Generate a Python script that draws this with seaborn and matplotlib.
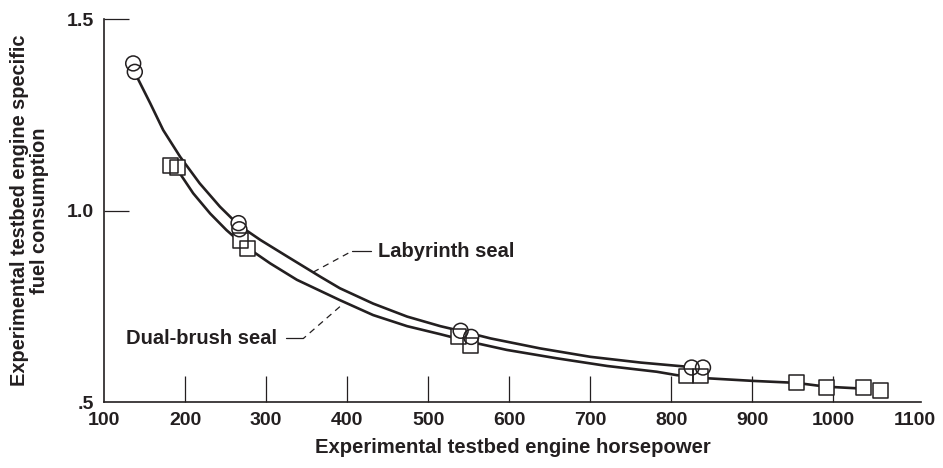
import matplotlib
matplotlib.use("Agg")
import matplotlib.pyplot as plt
import seaborn as sns
import pandas as pd

# smooth curves (horsepower, sfc)
lab_curve_x = [138, 157, 173, 194, 218, 243, 266, 293, 326, 367, 391, 432, 474, 515, 545, 577, 638, 700, 762, 820, 839]
lab_curve_y = [1.36, 1.28, 1.21, 1.14, 1.071, 1.010, 0.962, 0.923, 0.880, 0.827, 0.797, 0.757,
               0.723, 0.698, 0.683, 0.666, 0.640, 0.618, 0.603, 0.592, 0.590]
dual_curve_x = [191, 210, 231, 251, 272, 305, 338, 391, 432, 474, 515, 552, 597, 659, 721, 782,
                807, 830, 844, 902, 954, 991, 1036]
dual_curve_y = [1.105, 1.045, 0.992, 0.949, 0.910, 0.862, 0.819, 0.766, 0.727, 0.698, 0.677, 0.657,
                0.636, 0.614, 0.594, 0.579, 0.570, 0.566, 0.562, 0.555, 0.550, 0.540, 0.535]

# measured points
lab_pts_x = [136, 138, 266, 267, 540, 553, 825, 839]
lab_pts_y = [1.384, 1.362, 0.967, 0.951, 0.686, 0.670, 0.590, 0.590]
dual_pts_x = [182, 191, 268, 277, 537, 552, 818, 836, 954, 991, 1037, 1058]
dual_pts_y = [1.117, 1.112, 0.921, 0.901, 0.670, 0.648, 0.568, 0.568, 0.550, 0.538, 0.538, 0.529]

x_ticks = [100, 200, 300, 400, 500, 600, 700, 800, 900, 1000, 1100]
y_ticks = [0.5, 1.0, 1.5]
y_tick_labels = [".5", "1.0", "1.5"]

ink = "#231f20"

sns.set_theme(style="ticks")
plt.rcParams["font.family"] = ["Liberation Sans", "DejaVu Sans"]
plt.rcParams["font.weight"] = "bold"

lab_curve = pd.DataFrame({"hp": lab_curve_x, "sfc": lab_curve_y})
dual_curve = pd.DataFrame({"hp": dual_curve_x, "sfc": dual_curve_y})
lab_pts = pd.DataFrame({"hp": lab_pts_x, "sfc": lab_pts_y})
dual_pts = pd.DataFrame({"hp": dual_pts_x, "sfc": dual_pts_y})

fig = plt.figure(figsize=(9.43, 4.68), dpi=100)
ax = fig.add_axes([0.1103, 0.141, 0.8664, 0.8184])

sns.lineplot(data=lab_curve, x="hp", y="sfc", sort=False, color=ink, lw=1.9, ax=ax, zorder=2)
sns.lineplot(data=dual_curve, x="hp", y="sfc", sort=False, color=ink, lw=1.9, ax=ax, zorder=2)

# white fill first so the curves stop at the symbols, then the outlines on top
for pts, mk in [(lab_pts, "o"), (dual_pts, "s")]:
    sns.scatterplot(data=pts, x="hp", y="sfc", marker=mk, s=115, color="white",
                    edgecolor="none", linewidth=0, ax=ax, zorder=3)
for pts, mk in [(lab_pts, "o"), (dual_pts, "s")]:
    sns.scatterplot(data=pts, x="hp", y="sfc", marker=mk, s=115, facecolor="none",
                    edgecolor=ink, linewidth=1.1, ax=ax, zorder=4)

# callouts
ax.plot([358, 406], [0.839, 0.894], color=ink, lw=0.9, ls=(0, (5, 4)))
ax.plot([406, 430], [0.894, 0.894], color=ink, lw=0.9)
ax.text(438, 0.894, "Labyrinth seal", ha="left", va="center", fontsize=14.5,
        fontweight="bold", color=ink)
ax.plot([391, 346], [0.749, 0.666], color=ink, lw=0.9, ls=(0, (5, 4)))
ax.plot([346, 325], [0.666, 0.666], color=ink, lw=0.9)
ax.text(313, 0.667, "Dual-brush seal", ha="right", va="center", fontsize=14.5,
        fontweight="bold", color=ink)

ax.set_xlim(100, 1108)
ax.set_ylim(0.5, 1.5)
ax.set_xticks(x_ticks)
ax.set_yticks(y_ticks)
ax.set_yticklabels(y_tick_labels)
ax.tick_params(axis="both", direction="in", width=0.9, color=ink, labelcolor=ink, labelsize=14)
ax.tick_params(axis="x", length=19, pad=7)
ax.tick_params(axis="y", length=18, pad=7)
for lbl in ax.get_xticklabels() + ax.get_yticklabels():
    lbl.set_fontweight("bold")
ax.xaxis.get_major_ticks()[-1].tick1line.set_visible(False)
ax.xaxis.get_major_ticks()[0].tick1line.set_visible(False)
ax.yaxis.get_major_ticks()[0].tick1line.set_visible(False)

sns.despine(ax=ax)
for side in ["left", "bottom"]:
    ax.spines[side].set_color(ink)
    ax.spines[side].set_linewidth(1.2)

ax.set_xlabel("Experimental testbed engine horsepower", fontsize=14.6, fontweight="bold",
              color=ink, labelpad=7)
ax.set_ylabel("Experimental testbed engine specific\nfuel consumption", fontsize=14.4,
              fontweight="bold", color=ink, labelpad=13, linespacing=1.05)
ax.grid(False)

fig.savefig("out.png", dpi=100)
